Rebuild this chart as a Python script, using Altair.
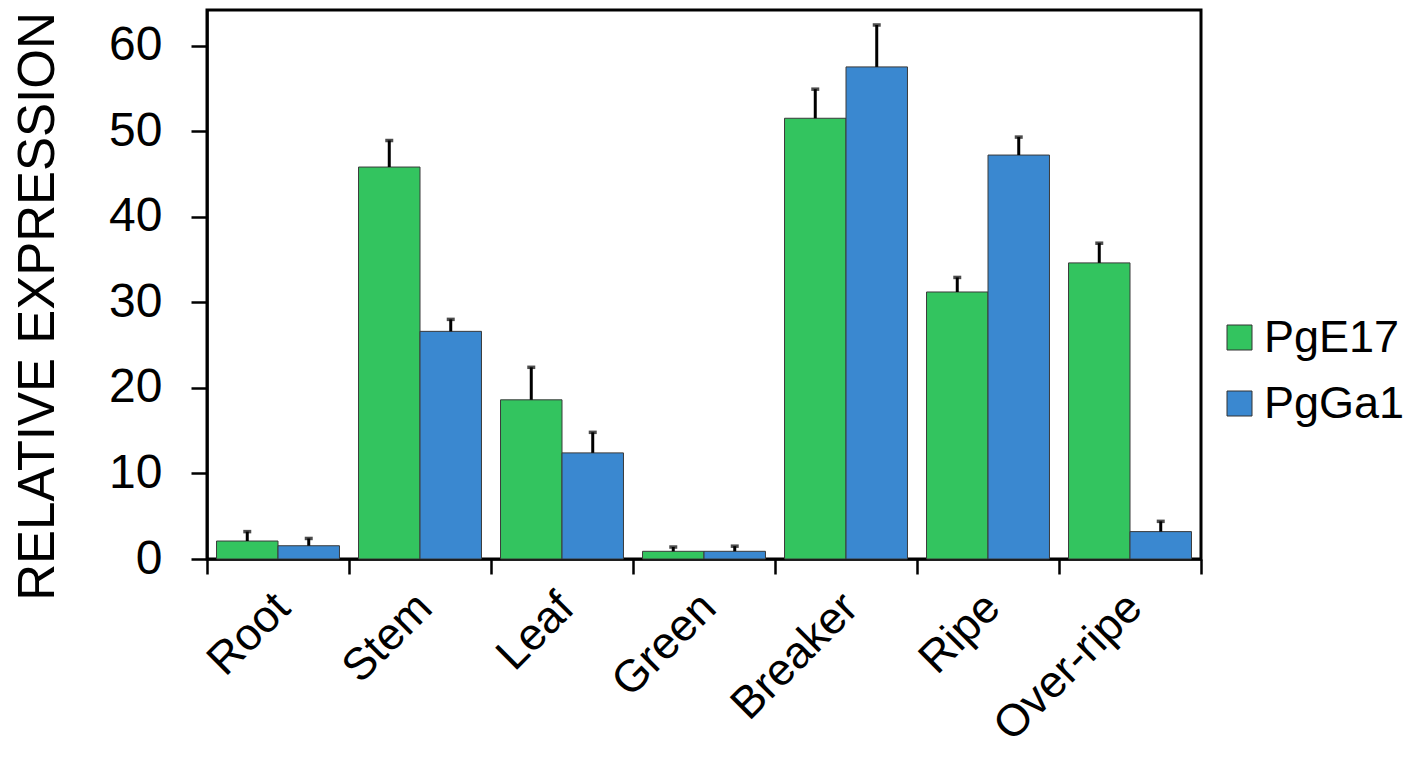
import altair as alt
import pandas as pd

categories = ["Root", "Stem", "Leaf", "Green", "Breaker", "Ripe", "Over-ripe"]
series = ["PgE17", "PgGa1"]
pge17 = [2.1, 45.8, 18.6, 0.9, 51.5, 31.2, 34.6]
pge17_err = [1.1, 3.1, 3.8, 0.5, 3.4, 1.7, 2.3]
pgga1 = [1.55, 26.6, 12.4, 0.9, 57.5, 47.2, 3.2]
pgga1_err = [0.85, 1.4, 2.4, 0.6, 4.9, 2.1, 1.2]
y_ticks = [0, 10, 20, 30, 40, 50, 60]
colors = ["#33C45F", "#3A88D0"]

rows = []
for i, c in enumerate(categories):
    rows.append({"tissue": c, "gene": series[0], "value": pge17[i], "err": pge17_err[i]})
    rows.append({"tissue": c, "gene": series[1], "value": pgga1[i], "err": pgga1_err[i]})
df = pd.DataFrame(rows)
df["upper"] = df["value"] + df["err"]

FONT = "Liberation Sans"

x_axis = alt.Axis(
    title=None, labelAngle=-45, labelAlign="right", labelBaseline="middle",
    labelFontSize=45, labelFont=FONT, labelColor="black", labelPadding=26,
    labelOffset=4, labelLimit=400, tickBand="extent", tickSize=15,
    tickWidth=2.5, tickColor="black", domainColor="black", domainWidth=2.5,
    grid=False,
)
y_axis = alt.Axis(
    values=y_ticks, title="RELATIVE EXPRESSION", titleFont=FONT,
    titleFontSize=51, titleFontWeight="normal", titleColor="black",
    titleAngle=270, titleBaseline="alphabetic", titleAlign="center",
    titleX=-154, titleY=296, titleLimit=800,
    labelFont=FONT, labelFontSize=48, labelColor="black", labelPadding=29,
    tickSize=16, tickWidth=2.5, tickColor="black", domainColor="black",
    domainWidth=2.5, grid=False,
)

x_enc = alt.X("tissue:N", sort=categories,
              scale=alt.Scale(paddingInner=0, paddingOuter=0), axis=x_axis)
xo_enc = alt.XOffset("gene:N", sort=series,
                     scale=alt.Scale(paddingInner=0, paddingOuter=0.155))
y_scale = alt.Scale(domain=[0, 64.15], nice=False, zero=True)

bars = alt.Chart(df).mark_bar(stroke="#3a3a3a", strokeWidth=1).encode(
    x=x_enc, xOffset=xo_enc,
    y=alt.Y("value:Q", scale=y_scale, axis=y_axis),
    color=alt.Color("gene:N", sort=series,
                    scale=alt.Scale(domain=series, range=colors),
                    legend=alt.Legend(
                        title=None, orient="none", legendX=1010, legendY=305,
                        symbolType="square", symbolSize=625,
                        symbolStrokeColor="#333333", symbolStrokeWidth=1,
                        symbolOpacity=1, labelFont=FONT, labelFontSize=45,
                        labelColor="black", labelOffset=2, labelLimit=300,
                        rowPadding=20, padding=0)),
)

stems = alt.Chart(df).mark_rule(color="black", strokeWidth=3).encode(
    x=x_enc, xOffset=xo_enc,
    y=alt.Y("value:Q", scale=y_scale, axis=y_axis),
    y2="upper:Q",
)

caps = alt.Chart(df).mark_tick(color="black", thickness=3.5, size=8).encode(
    x=x_enc, xOffset=xo_enc,
    y=alt.Y("upper:Q", scale=y_scale, axis=y_axis),
)

chart = alt.layer(bars, stems, caps).properties(
    width=994, height=549,
    padding={"left": 199, "top": 2, "right": 207, "bottom": 195},
    autosize=alt.AutoSizeParams(type="none"),
    background="white",
).configure_view(stroke="black", strokeWidth=3)

chart.save("out.html", embed_options={"renderer": "svg", "actions": False})
